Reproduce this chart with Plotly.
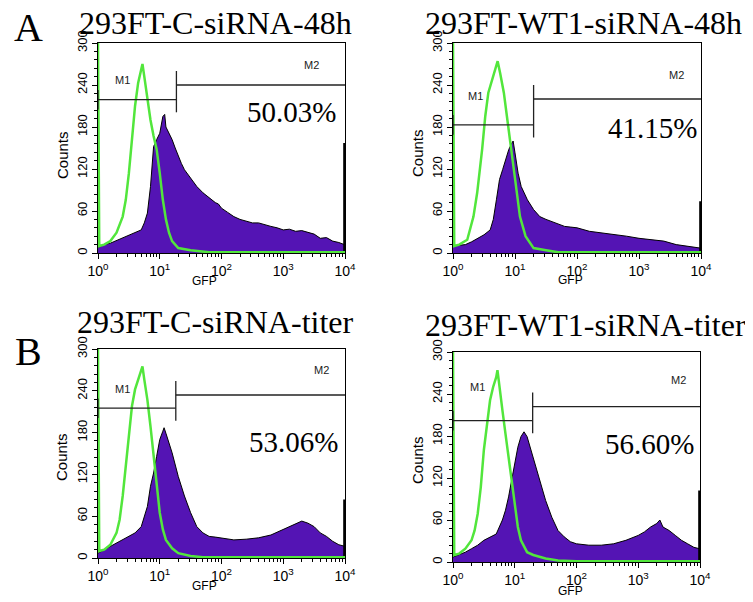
import numpy as np
import plotly.graph_objects as go

# the page body adds an 8 px margin, so the figure is drawn 8 px smaller
# and every reference pixel position is shifted by OFF
OFF = 8
W, H = 753 - OFF, 602 - OFF

titles = ["293FT-C-siRNA-48h", "293FT-WT1-siRNA-48h",
          "293FT-C-siRNA-titer", "293FT-WT1-siRNA-titer"]
percents = ["50.03%", "41.15%", "53.06%", "56.60%"]
row_labels = ["A", "B"]

# siRNA-transfected cells (purple filled histograms), x in log10(GFP)
a1_logx = [0, 0.1, 0.2, 0.3, 0.4, 0.5, 0.6, 0.7, 0.75, 0.8, 0.85, 0.9, 0.95, 1.0, 1.05, 1.08, 1.1,
           1.15, 1.2, 1.25, 1.3, 1.35, 1.4, 1.5, 1.6, 1.7, 1.8, 1.9, 1.95, 2.0, 2.1, 2.2, 2.3, 2.4,
           2.5, 2.6, 2.7, 2.8, 2.9, 3.0, 3.1, 3.2, 3.3, 3.4, 3.5, 3.6, 3.7, 3.8, 3.9, 3.99]
a1_counts = [8, 12, 14, 18, 21, 25, 29, 33, 43, 57, 95, 152, 162, 171, 195, 198, 180,
             171, 162, 150, 138, 128, 119, 107, 95, 86, 79, 72, 70, 64, 58, 52, 48, 45,
             43, 43, 40, 38, 36, 33, 34, 31, 32, 29, 27, 21, 22, 17, 15, 12]

a2_logx = [0, 0.1, 0.2, 0.3, 0.4, 0.5, 0.6, 0.65, 0.7, 0.75, 0.8, 0.85, 0.9, 0.95, 0.97, 1.0,
           1.05, 1.1, 1.2, 1.3, 1.4, 1.5, 1.6, 1.7, 1.8, 1.9, 2.0, 2.2, 2.4, 2.6, 2.8, 3.0,
           3.2, 3.4, 3.6, 3.8, 3.99]
a2_counts = [10, 11, 12, 16, 21, 26, 33, 48, 76, 105, 119, 133, 148, 157, 160, 143,
             114, 95, 76, 62, 52, 48, 45, 42, 38, 37, 36, 31, 29, 26, 24, 21,
             19, 17, 12, 9, 7]

b1_logx = [0, 0.1, 0.2, 0.3, 0.4, 0.5, 0.6, 0.7, 0.75, 0.8, 0.85, 0.9, 0.95, 1.0, 1.05, 1.07,
           1.1, 1.15, 1.2, 1.3, 1.4, 1.5, 1.6, 1.7, 1.8, 1.9, 2.0, 2.2, 2.4, 2.6, 2.8, 3.0,
           3.1, 3.2, 3.3, 3.4, 3.5, 3.6, 3.7, 3.8, 3.9, 3.99]
b1_counts = [7, 12, 17, 22, 26, 31, 36, 45, 60, 74, 103, 122, 146, 170, 182, 187,
             179, 165, 151, 117, 89, 65, 45, 36, 31, 30, 29, 26, 27, 29, 33, 41,
             45, 50, 53, 50, 45, 36, 31, 24, 19, 17]

b2_logx = [0, 0.1, 0.2, 0.3, 0.4, 0.5, 0.6, 0.7, 0.75, 0.8, 0.85, 0.9, 0.95, 1.0, 1.05, 1.1,
           1.15, 1.2, 1.25, 1.3, 1.4, 1.5, 1.6, 1.7, 1.8, 1.9, 2.0, 2.2, 2.4, 2.6, 2.8, 3.0,
           3.1, 3.2, 3.3, 3.35, 3.4, 3.5, 3.6, 3.7, 3.8, 3.9, 3.99]
b2_counts = [7, 10, 14, 19, 24, 31, 36, 40, 50, 60, 74, 93, 117, 140, 164, 179,
             186, 179, 164, 150, 117, 88, 64, 45, 36, 29, 26, 24, 24, 26, 31, 38,
             43, 50, 55, 60, 50, 45, 38, 31, 26, 21, 19]

# last-channel (off-scale) counts
overflow = [157, 74, 84, 102]

# control cells (green outline histograms)
g1_logx = [0, 0.02, 0.1, 0.2, 0.3, 0.4, 0.45, 0.5, 0.55, 0.6, 0.65, 0.7, 0.72, 0.75, 0.8,
           0.85, 0.9, 0.95, 1.0, 1.05, 1.1, 1.15, 1.2, 1.3, 1.5, 1.8, 2.0, 3.0, 4.0]
g1_counts = [300, 10, 12, 17, 29, 52, 76, 114, 162, 210, 243, 262, 270, 252, 219,
             190, 167, 148, 114, 76, 48, 29, 17, 7, 4, 1, 1, 1, 1]

g2_logx = [0, 0.02, 0.1, 0.23, 0.33, 0.39, 0.47, 0.52, 0.57, 0.63, 0.72, 0.76, 0.82, 0.87,
           0.92, 0.98, 1.03, 1.08, 1.17, 1.3, 1.5, 1.7, 2.0, 3.0, 4.0]
g2_counts = [300, 10, 12, 19, 52, 86, 148, 195, 229, 248, 274, 257, 229, 195,
             162, 124, 86, 52, 24, 7, 4, 1, 1, 1, 1]

g3_logx = [0, 0.02, 0.1, 0.2, 0.3, 0.35, 0.4, 0.45, 0.5, 0.55, 0.6, 0.65, 0.7, 0.72, 0.75,
           0.8, 0.85, 0.9, 0.95, 1.0, 1.05, 1.1, 1.2, 1.3, 1.5, 1.7, 2.0, 3.0, 4.0]
g3_counts = [300, 10, 12, 19, 36, 55, 89, 132, 179, 218, 242, 256, 268, 275, 256,
             227, 189, 146, 103, 65, 41, 26, 14, 7, 3, 1, 1, 1, 1]

g4_logx = [0, 0.02, 0.1, 0.2, 0.3, 0.35, 0.4, 0.45, 0.5, 0.55, 0.6, 0.65, 0.7, 0.72, 0.75,
           0.8, 0.85, 0.9, 0.95, 1.0, 1.05, 1.1, 1.2, 1.3, 1.5, 1.7, 2.0, 3.0, 4.0]
g4_counts = [300, 10, 12, 19, 31, 45, 69, 107, 160, 198, 231, 250, 264, 274, 250,
             217, 183, 150, 112, 79, 50, 31, 14, 10, 5, 2, 1, 1, 1]

# M1 / M2 gates: split point (log10 GFP) and marker heights
gate_split = [1.27, 1.30, 1.26, 1.29]
m1_level = [219, 183, 215, 202]
m2_level = [240, 220, 234, 222]
m1_label = [(0.40, 247), (0.36, 224), (0.40, 242), (0.39, 250)]
m2_label = [(3.46, 269), (3.61, 255), (3.62, 270), (3.65, 260)]
pct_pos = [(3.14, 202), (3.21, 179), (3.16, 167), (3.19, 169)]

# axis ticks
x_major = [1, 10, 100, 1000, 10000]
x_major_text = ["10<sup>0</sup>", "10<sup>1</sup>", "10<sup>2</sup>", "10<sup>3</sup>", "10<sup>4</sup>"]
x_minor = [m * d for d in [1, 10, 100, 1000] for m in range(2, 10)]
y_major = [0, 60, 120, 180, 240, 300]
y_minor = list(range(0, 301, 12))

purple = [(a1_logx, a1_counts), (a2_logx, a2_counts), (b1_logx, b1_counts), (b2_logx, b2_counts)]
green = [(g1_logx, g1_counts), (g2_logx, g2_counts), (g3_logx, g3_counts), (g4_logx, g4_counts)]

# reference pixel positions: plot boxes (left, right, top, bottom), titles, axis titles
boxes = [(98, 345, 43, 253), (453, 701, 43, 253), (98, 345, 349, 558), (453, 700, 352, 562)]
title_pos = [(216, 23), (583, 23), (215, 322), (585, 325)]
gfp_pos = [(204, 281), (570, 280), (204, 586), (570, 591)]
counts_pos = [(62, 155), (417, 153), (62, 457), (417, 460)]
row_pos = [(28, 28), (28, 351)]


def px(x):
    return (x - OFF) / W


def py(y):
    return 1 - (y - OFF) / H


SANS = "Liberation Sans, Arial, sans-serif"
SERIF = "Liberation Serif, Times New Roman, serif"
PURPLE = "#5414b4"
GREEN = "#52e63c"

fig = go.Figure()
annotations = []
layout = {}

for i in range(4):
    sfx = "" if i == 0 else str(i + 1)
    xa, ya = "x" + sfx, "y" + sfx
    l, r, t, b = boxes[i]
    layout["xaxis" + sfx] = dict(
        domain=[px(l), px(r)], anchor=ya, type="log", range=[0, 4], automargin=False,
        showline=True, linecolor="black", linewidth=1, mirror=True,
        ticks="outside", ticklen=5, tickcolor="black", showgrid=False, zeroline=False,
        tickmode="array", tickvals=x_major, ticktext=x_major_text,
        tickfont=dict(family=SANS, size=14, color="black"),
        minor=dict(ticks="outside", ticklen=3, tickcolor="black", tickmode="array",
                   tickvals=x_minor, showgrid=False),
    )
    layout["yaxis" + sfx] = dict(
        domain=[py(b), py(t)], anchor=xa, range=[0, 300], automargin=False,
        showline=True, linecolor="black", linewidth=1, mirror=True,
        tickmode="array", tickvals=y_major, tickangle=-90,
        ticks="outside", ticklen=5, tickcolor="black", showgrid=False, zeroline=False,
        tickfont=dict(family=SANS, size=13, color="black"),
        minor=dict(ticks="outside", ticklen=3, tickcolor="black", tickmode="array",
                   tickvals=y_minor, showgrid=False),
    )

    lx, cy = purple[i]
    fig.add_trace(go.Scatter(
        x=10 ** np.array(lx, dtype=float), y=cy, xaxis=xa, yaxis=ya,
        mode="lines", line=dict(color="black", width=1), fill="tozeroy",
        fillcolor=PURPLE, showlegend=False, hoverinfo="skip"))
    # off-scale last channel
    fig.add_trace(go.Scatter(
        x=[10 ** 3.995, 10 ** 3.995], y=[0, overflow[i]], xaxis=xa, yaxis=ya,
        mode="lines", line=dict(color="black", width=3), showlegend=False, hoverinfo="skip"))
    gx, gy = green[i]
    fig.add_trace(go.Scatter(
        x=10 ** np.array(gx, dtype=float), y=gy, xaxis=xa, yaxis=ya,
        mode="lines", line=dict(color=GREEN, width=2.5), showlegend=False,
        hoverinfo="skip"))

    s = 10 ** gate_split[i]
    # M1 marker
    fig.add_trace(go.Scatter(
        x=[1, 1, None, 1, s, None, s, s], y=[m1_level[i] - 14, m1_level[i] + 14, None,
                                            m1_level[i], m1_level[i], None,
                                            m1_level[i] - 18, m2_level[i] + 20],
        xaxis=xa, yaxis=ya, mode="lines", line=dict(color="#222", width=1.3),
        showlegend=False, hoverinfo="skip"))
    # M2 marker
    fig.add_trace(go.Scatter(
        x=[s, 10000], y=[m2_level[i], m2_level[i]], xaxis=xa, yaxis=ya,
        mode="lines", line=dict(color="#222", width=1.3), showlegend=False, hoverinfo="skip"))

    annotations.append(dict(xref=xa, yref=ya, x=m1_label[i][0], y=m1_label[i][1], text="M1",
                            showarrow=False, font=dict(family=SANS, size=11, color="#222")))
    annotations.append(dict(xref=xa, yref=ya, x=m2_label[i][0], y=m2_label[i][1], text="M2",
                            showarrow=False, font=dict(family=SANS, size=11, color="#222")))
    annotations.append(dict(xref=xa, yref=ya, x=pct_pos[i][0], y=pct_pos[i][1], text=percents[i],
                            showarrow=False, font=dict(family=SERIF, size=29, color="black")))
    annotations.append(dict(xref="paper", yref="paper", x=px(title_pos[i][0]),
                            y=py(title_pos[i][1]), text=titles[i], showarrow=False,
                            xanchor="center", yanchor="middle",
                            font=dict(family=SERIF, size=32, color="black")))
    annotations.append(dict(xref="paper", yref="paper", x=px(gfp_pos[i][0]),
                            y=py(gfp_pos[i][1]), text="GFP", showarrow=False,
                            xanchor="center", yanchor="middle",
                            font=dict(family=SANS, size=12, color="black")))
    annotations.append(dict(xref="paper", yref="paper", x=px(counts_pos[i][0]),
                            y=py(counts_pos[i][1]), text="Counts", showarrow=False,
                            textangle=-90, xanchor="center", yanchor="middle",
                            font=dict(family=SANS, size=15, color="black")))

for lab, (x, y) in zip(row_labels, row_pos):
    annotations.append(dict(xref="paper", yref="paper", x=px(x), y=py(y), text=lab,
                            showarrow=False, xanchor="center", yanchor="middle",
                            font=dict(family=SERIF, size=40, color="black")))

fig.update_layout(
    width=W, height=H, autosize=False,
    margin=dict(l=0, r=0, t=0, b=0, autoexpand=False),
    paper_bgcolor="white", plot_bgcolor="white",
    annotations=annotations, showlegend=False, **layout)

fig.write_html("out.html")
